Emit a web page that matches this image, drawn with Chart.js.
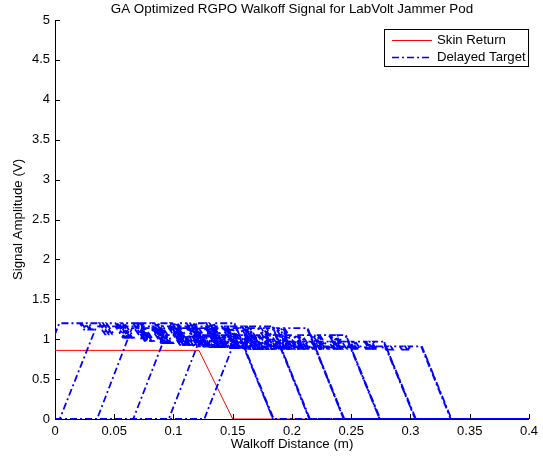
<!DOCTYPE html>
<html>
<head>
<meta charset="utf-8">
<script src="https://cdn.jsdelivr.net/npm/chart.js@4/dist/chart.umd.min.js"></script>
<style>
  html, body { margin: 0; padding: 0; background: #fff; }
  #wrap { width: 543px; height: 459px; }
</style>
</head>
<body>
<div id="wrap"><canvas id="c" width="543" height="459"></canvas></div>
<script>
// ---- axis ticks ----
const xTickValues = [0, 0.05, 0.1, 0.15, 0.2, 0.25, 0.3, 0.35, 0.4];
const xTickLabels = ['0', '0.05', '0.1', '0.15', '0.2', '0.25', '0.3', '0.35', '0.4'];
const yTickValues = [0, 0.5, 1, 1.5, 2, 2.5, 3, 3.5, 4, 4.5, 5];
const yTickLabels = ['0', '0.5', '1', '1.5', '2', '2.5', '3', '3.5', '4', '4.5', '5'];

// ---- skin return (walkoff distance m, amplitude V) ----
const skinX = [0, 0.1215, 0.150, 0.4];
const skinY = [0.86, 0.86, 0, 0];

// ---- delayed target pulses ----
const pulseRise     = [-0.028, 0.004, 0.0355, 0.066, 0.096, 0.126]; // leaves zero
const pulseTopStart = [0.0036, 0.035, 0.065, 0.0935, 0.1215, 0.150]; // reaches peak
const pulsePeak     = [1.20, 1.16, 1.14, 1.05, 0.97, 0.91];
const pulseTopEnd   = [0.151, 0.183, 0.2126, 0.245, 0.277, 0.309];   // starts falling
const pulseFall     = [0.184, 0.2146, 0.2436, 0.274, 0.304, 0.334];  // back at zero

// ripple on the pulse tops: where each dip starts and how low it goes
const rippleX   = [0.021, 0.036, 0.051, 0.066, 0.081, 0.096, 0.111, 0.126, 0.141, 0.156,
                   0.171, 0.186, 0.201, 0.216, 0.231, 0.246, 0.261, 0.276, 0.291];
const rippleLow = [1.12, 1.06, 1.02, 0.98, 0.95, 0.93, 0.91, 0.90, 0.89, 0.88,
                   0.88, 0.88, 0.88, 0.88, 0.88, 0.88, 0.88, 0.87, 0.87];
const RIPPLE_RUN = 0.045;     // walkoff travelled per volt of dip
const RIPPLE_STEP = 0.0015;   // spacing of the passes inside one dip
const RIPPLE_PASSES = 3;      // down-and-up passes per dip

const AX_MAX = xTickValues[xTickValues.length - 1];

function skinPoints() {
  return skinX.map((x, i) => ({ x: x, y: skinY[i] }));
}

function pulsePoints(i) {
  const P = pulsePeak[i];
  const pts = [];
  if (pulseRise[i] > 0) pts.push({ x: 0, y: 0 });
  pts.push({ x: pulseRise[i], y: 0 });
  pts.push({ x: pulseTopStart[i], y: P });
  const g = RIPPLE_STEP;
  const span = (2 * RIPPLE_PASSES - 1) * g;
  rippleX.forEach((rx, k) => {
    const lo = rippleLow[k];
    const dx = (P - lo) * RIPPLE_RUN;
    if (rx > pulseTopStart[i] + 0.003 && rx + dx + span < pulseTopEnd[i] + 0.004 && P - lo > 0.02) {
      for (let p = 0; p < RIPPLE_PASSES; p++) {
        const o = 2 * p * g;
        pts.push({ x: rx + o, y: P });
        pts.push({ x: rx + o + dx, y: lo });
        pts.push({ x: rx + o + dx + g, y: lo });
        pts.push({ x: rx + o + g, y: P });
      }
    }
  });
  // trailing edge, traced down, up and down again
  pts.push({ x: pulseTopEnd[i], y: P });
  pts.push({ x: pulseFall[i], y: 0 });
  pts.push({ x: pulseTopEnd[i] + 0.0006, y: P });
  pts.push({ x: pulseFall[i] + 0.0006, y: 0 });
  pts.push({ x: AX_MAX, y: 0 });
  return pts;
}

const FONT = '"Liberation Sans", Arial, Helvetica, sans-serif';
const BLUE_DASH = [7, 3, 2, 3];

const datasets = [{
  label: 'Skin Return',
  data: skinPoints(),
  borderColor: '#ff0000',
  borderWidth: 1,
  order: 1
}];
pulseRise.forEach((_, i) => {
  datasets.push({
    label: 'Delayed Target',
    data: pulsePoints(i),
    borderColor: '#0000ff',
    borderWidth: 1.8,
    borderDash: BLUE_DASH,
    order: 0
  });
});

// inward-pointing tick marks
const inwardTicks = {
  id: 'inwardTicks',
  afterDraw(chart) {
    const { ctx, chartArea: a, scales: { x, y } } = chart;
    ctx.save();
    ctx.strokeStyle = '#000';
    ctx.lineWidth = 1;
    ctx.beginPath();
    xTickValues.forEach(v => {
      const px = Math.round(x.getPixelForValue(v)) + 0.5;
      ctx.moveTo(px, a.bottom);
      ctx.lineTo(px, a.bottom - 5);
    });
    yTickValues.forEach(v => {
      const py = Math.round(y.getPixelForValue(v)) + 0.5;
      ctx.moveTo(a.left, py);
      ctx.lineTo(a.left + 5, py);
    });
    ctx.stroke();
    ctx.restore();
  }
};

// title centred over the axes
const axesTitle = {
  id: 'axesTitle',
  afterDraw(chart) {
    const { ctx, chartArea: a } = chart;
    ctx.save();
    ctx.fillStyle = '#000';
    ctx.font = '13.4px ' + FONT;
    ctx.textAlign = 'center';
    ctx.textBaseline = 'middle';
    ctx.fillText('GA Optimized RGPO Walkoff Signal for LabVolt Jammer Pod', (a.left + a.right) / 2, 9);
    ctx.restore();
  }
};

// boxed legend in the upper right corner of the axes
const boxLegend = {
  id: 'boxLegend',
  afterDraw(chart) {
    const { ctx } = chart;
    const ds = chart.data.datasets;
    const rows = [ds[0], ds[1]];
    const bx = 384.5, by = 29.5, bw = 144, bh = 37;
    ctx.save();
    ctx.fillStyle = '#fff';
    ctx.fillRect(bx, by, bw, bh);
    ctx.strokeStyle = '#000';
    ctx.lineWidth = 1;
    ctx.strokeRect(bx, by, bw, bh);
    ctx.font = '13.2px ' + FONT;
    ctx.textBaseline = 'middle';
    ctx.textAlign = 'left';
    rows.forEach((d, r) => {
      const yy = by + 11 + r * 17;
      ctx.beginPath();
      ctx.setLineDash(d.borderDash || []);
      ctx.strokeStyle = d.borderColor;
      ctx.lineWidth = r === 0 ? 1 : 1.3;
      ctx.moveTo(392, yy);
      ctx.lineTo(432, yy);
      ctx.stroke();
      ctx.setLineDash([]);
      ctx.fillStyle = '#000';
      ctx.fillText(d.label, 437, yy);
    });
    ctx.restore();
  }
};

new Chart(document.getElementById('c'), {
  type: 'scatter',
  data: { datasets: datasets },
  options: {
    responsive: false,
    animation: false,
    devicePixelRatio: 1,
    layout: { padding: { left: 0, right: 11, top: 20, bottom: 0 } },
    elements: {
      point: { radius: 0, hoverRadius: 0 },
      line: { tension: 0, fill: false }
    },
    datasets: { scatter: { showLine: true } },
    plugins: {
      legend: { display: false },
      title: { display: false },
      tooltip: { enabled: false }
    },
    scales: {
      x: {
        type: 'linear',
        min: 0, max: 0.4,
        afterFit(s) { s.height = 40; },
        afterBuildTicks(s) { s.ticks = xTickValues.map(v => ({ value: v })); },
        grid: { display: false, drawTicks: false, tickLength: 0 },
        border: { display: true, color: '#000', width: 1 },
        ticks: {
          color: '#000',
          font: { family: FONT, size: 13 },
          padding: 5,
          maxRotation: 0,
          autoSkip: false,
          callback: (v) => { const k = xTickValues.indexOf(v); return k >= 0 ? xTickLabels[k] : ''; }
        },
        title: {
          display: true,
          text: 'Walkoff Distance (m)',
          color: '#000',
          font: { family: FONT, size: 13.3 },
          padding: { top: 0, bottom: 7 }
        }
      },
      y: {
        type: 'linear',
        min: 0, max: 5,
        afterFit(s) { s.width = 55; },
        afterBuildTicks(s) { s.ticks = yTickValues.map(v => ({ value: v })); },
        grid: { display: false, drawTicks: false, tickLength: 0 },
        border: { display: true, color: '#000', width: 1 },
        ticks: {
          color: '#000',
          font: { family: FONT, size: 13 },
          padding: 5,
          autoSkip: false,
          callback: (v) => { const k = yTickValues.indexOf(v); return k >= 0 ? yTickLabels[k] : ''; }
        },
        title: {
          display: true,
          text: 'Signal Amplitude (V)',
          color: '#000',
          font: { family: FONT, size: 13.3 },
          padding: { top: 10, bottom: 0 }
        }
      }
    }
  },
  plugins: [inwardTicks, axesTitle, boxLegend]
});
</script>
</body>
</html>
